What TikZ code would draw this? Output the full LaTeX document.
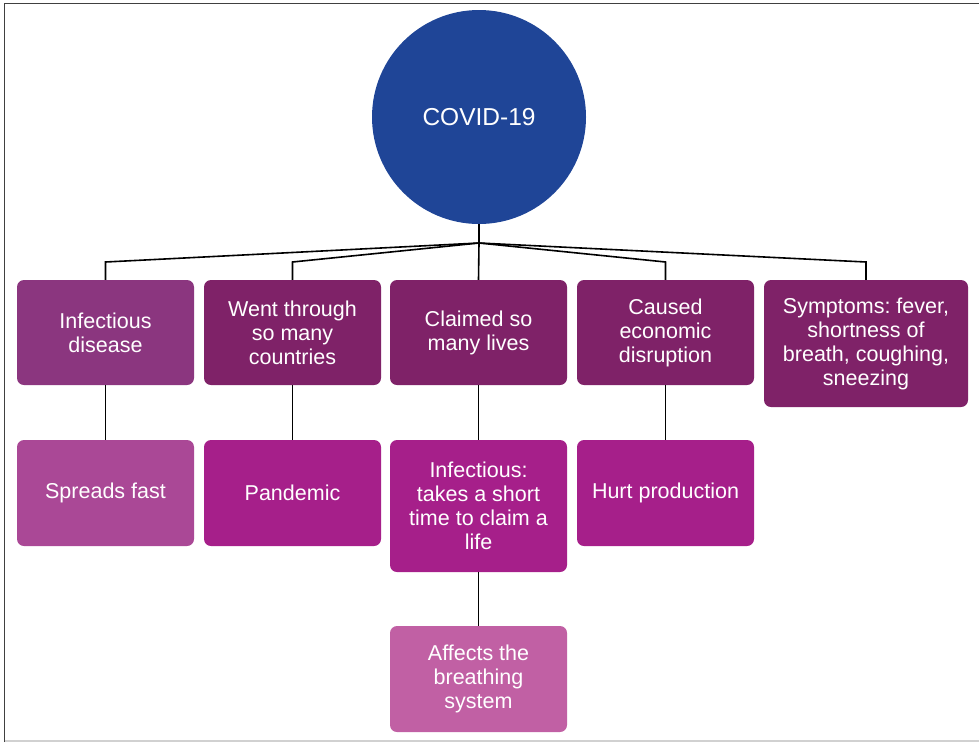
\documentclass[tikz,border=0pt]{standalone}
\usepackage{fontspec}
\setmainfont{Liberation Sans}
\frenchspacing
\definecolor{circ}{HTML}{1F4597}
\definecolor{rowA}{HTML}{8B367F}
\definecolor{rowB}{HTML}{7F2268}
\definecolor{rowC}{HTML}{AA4896}
\definecolor{rowD}{HTML}{A61F8A}
\definecolor{rowE}{HTML}{C160A4}
\begin{document}
\begin{tikzpicture}[x=1pt,y=-1pt,
  box/.style={rounded corners=7pt, draw=none, text=white, align=center, inner sep=2pt,
    font=\fontsize{21.5}{24}\selectfont\frenchspacing},
  conn/.style={draw=black, line width=1.6pt}]
\useasboundingbox (0,0) rectangle (979,742);
% frame
\draw[line width=1.5pt, draw=black!75] (4.5,742) -- (4.5,3.5) -- (979,3.5);
\draw[line width=1.5pt, draw=black!18] (4.5,741) -- (979,741);
% circle
\node[circle, fill=circ, minimum size=214pt, inner sep=0, text=white,
  font=\fontsize{24.5}{28}\selectfont] (c) at (479,117) {COVID-19};
% boxes row 1
\node[box, fill=rowA, minimum width=177pt, minimum height=105pt] (a1) at (105.5,332.5) {Infectious\\disease};
\node[box, fill=rowB, minimum width=177pt, minimum height=105pt] (b1) at (292.5,332.5) {Went through\\so many\\countries};
\node[box, fill=rowB, minimum width=177pt, minimum height=105pt] (c1) at (478.5,332.5) {Claimed so\\many lives};
\node[box, fill=rowB, minimum width=177pt, minimum height=105pt] (d1) at (665.5,332.5) {Caused\\economic\\disruption};
\node[box, fill=rowB, minimum width=204pt, minimum height=127pt] (e1) at (866,343.5) {Symptoms: fever,\\shortness of\\breath, coughing,\\sneezing};
% row 2
\node[box, fill=rowC, minimum width=177pt, minimum height=106pt] (a2) at (105.5,493) {Spreads fast};
\node[box, fill=rowD, minimum width=177pt, minimum height=106pt] (b2) at (292.5,493) {Pandemic};
\node[box, fill=rowD, minimum width=177pt, minimum height=132pt] (c2) at (478.5,506) {Infectious:\\takes a short\\time to claim a\\life};
\node[box, fill=rowD, minimum width=177pt, minimum height=106pt] (d2) at (665.5,493) {Hurt production};
% row 3
\node[box, fill=rowE, minimum width=177pt, minimum height=106pt] (c3) at (478.5,679) {Affects the\\breathing\\system};
% connectors
\coordinate (hub) at (479,243);
\draw[conn] (c.south) -- (hub) -- (c1.north);
\draw[conn] (hub) -- (105.5,262) -- (a1.north);
\draw[conn] (hub) -- (292.5,262) -- (b1.north);
\draw[conn] (hub) -- (665.5,262) -- (d1.north);
\draw[conn] (hub) -- (866,262) -- (e1.north);
\draw[conn] (a1.south) -- (a2.north);
\draw[conn] (b1.south) -- (b2.north);
\draw[conn] (c1.south) -- (c2.north);
\draw[conn] (d1.south) -- (d2.north);
\draw[conn] (c2.south) -- (c3.north);
\end{tikzpicture}
\end{document}
